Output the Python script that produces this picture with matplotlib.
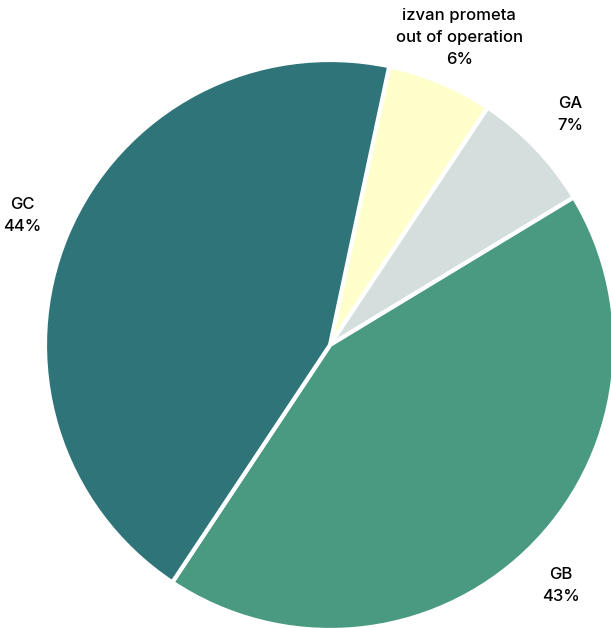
import matplotlib.pyplot as plt

# data, clockwise from the top
labels = ["izvan prometa\nout of operation", "GA", "GB", "GC"]
shares = [6, 7, 43, 44]
colors = ["#FFFFCC", "#D3DEDD", "#4A9A82", "#2E7478"]

plt.rcParams['font.family'] = ['Inter', 'DejaVu Sans']

fig = plt.figure(figsize=(6.11, 6.28), dpi=100)
ax = fig.add_axes([45 / 611, (628 - 345 - 285) / 628, 570 / 611, 570 / 628])

wedges, texts, autotexts = ax.pie(
    shares,
    labels=labels,
    colors=colors,
    startangle=78,
    counterclock=False,
    labeldistance=1.17,
    autopct=lambda p: "",
    wedgeprops=dict(edgecolor="white", linewidth=3),
)

# put the label and percentage in one centred block
for t, a, lab, v in zip(texts, autotexts, labels, shares):
    t.set_text(f"{lab}\n{v}%")
    t.set_ha("center")
    t.set_va("center")
    t.set_fontsize(12)
    t.set_fontweight("medium")
    t.set_linespacing(1.6)
    a.set_visible(False)

ax.set_xlim(-1, 1)
ax.set_ylim(-1, 1)
ax.set_aspect("equal")
ax.axis("off")

fig.savefig("out.png", dpi=100)
